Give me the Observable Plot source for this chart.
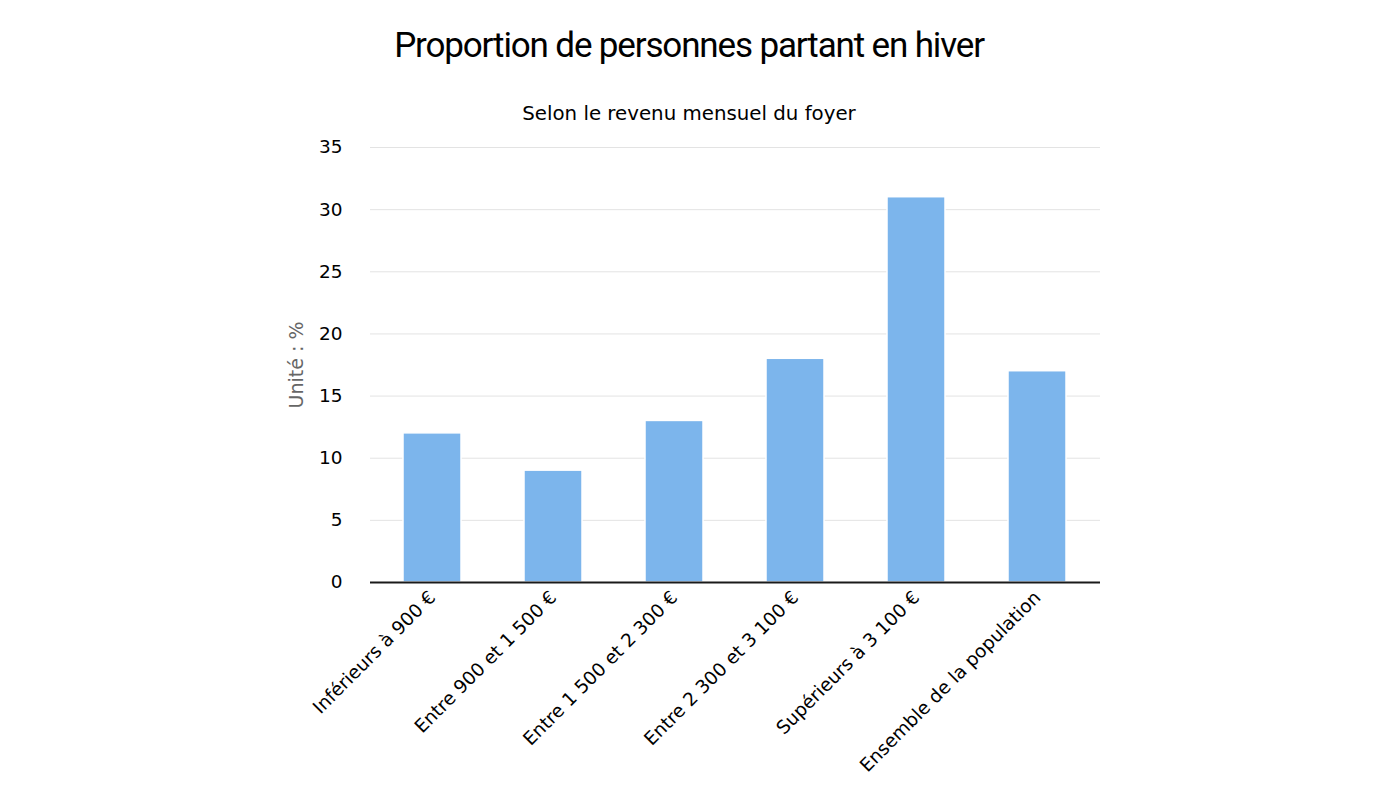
<!DOCTYPE html>
<html>
<head>
<meta charset="utf-8">
<script src="https://cdn.jsdelivr.net/npm/d3@7"></script>
<script src="https://cdn.jsdelivr.net/npm/@observablehq/plot@0.6"></script>
<style>
  html, body { margin: 0; padding: 0; background: #fff; }
  #wrap { width: 1400px; height: 800px; position: relative; overflow: hidden; }
  #title { height: 90px; line-height: 92px; text-align: center; font-family: "Roboto", sans-serif; font-size: 35px; letter-spacing: -1.15px; color: #000; padding-right: 22px; }
  #subtitle { height: 48px; line-height: 48px; text-align: center; font-family: "DejaVu Sans", sans-serif; font-size: 19.8px; color: #000; padding-right: 22px; position: relative; z-index: 2; }
  #chart { margin-top: -20px; }
  svg { display: block; }
</style>
</head>
<body>
<div id="wrap">
  <div id="title">Proportion de personnes partant en hiver</div>
  <div id="subtitle">Selon le revenu mensuel du foyer</div>
  <div id="chart"></div>
</div>
<script>
const categories = [
  "Inférieurs à 900 €",
  "Entre 900 et 1 500 €",
  "Entre 1 500 et 2 300 €",
  "Entre 2 300 et 3 100 €",
  "Supérieurs à 3 100 €",
  "Ensemble de la population"
];
const values = [12, 9, 13, 18, 31, 17];
const yTicks = [0, 5, 10, 15, 20, 25, 30, 35];
const yLabel = "Unité : %";

const data = categories.map((c, i) => ({category: c, value: values[i]}));

const chart = Plot.plot({
  width: 1400,
  height: 682,
  marginTop: 29,
  marginBottom: 218,
  marginLeft: 370,
  marginRight: 300,
  style: {fontFamily: "DejaVu Sans, sans-serif", fontSize: "18.5px", color: "#000", background: "transparent"},
  x: {domain: categories, paddingInner: 0.52, paddingOuter: 0.26},
  y: {domain: [0, 35]},
  marks: [
    Plot.gridY(yTicks, {stroke: "#e3e3e3", strokeOpacity: 1, strokeWidth: 1}),
    Plot.barY(data, {x: "category", y: "value", fill: "#7cb5ec", stroke: "#ffffff", strokeWidth: 1.5}),
    Plot.ruleY([0], {stroke: "#1a1a1a", strokeWidth: 2}),
    Plot.axisY({ticks: yTicks, tickSize: 0, tickPadding: 28, fontSize: 18.5, fill: "#000",
      label: yLabel, labelAnchor: "center", labelArrow: "none", labelOffset: 81}),
    Plot.axisX({tickSize: 0, tickPadding: 12, tickRotate: -45, fontSize: 18.5, fill: "#000", label: null})
  ]
});
document.getElementById("chart").appendChild(chart);
// style the y-axis label gray
chart.querySelectorAll('[aria-label="y-axis label"] text').forEach(t => { t.setAttribute("fill", "#666"); t.style.fontSize = "19px"; });
</script>
</body>
</html>
